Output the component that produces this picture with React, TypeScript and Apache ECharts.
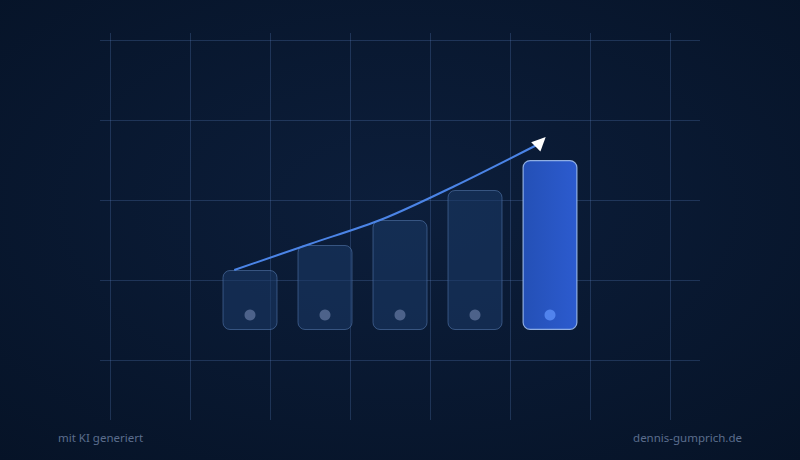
import React, { useEffect, useRef } from "react";
import * as echarts from "echarts";

const categories = ["1", "2", "3", "4", "5"];
const barValues = [60, 85, 110, 140, 170];
const dotLevel = 15;
const trendX = [0.29, 1.3, 2.27, 3.23, 4.35];
const trendY = [60, 86, 111, 144, 186];
const leftNote = "mit KI generiert";
const rightNote = "dennis-gumprich.de";

export default function App() {
  const ref = useRef<HTMLDivElement>(null);
  useEffect(() => {
    if (!ref.current) return;
    const chart = echarts.init(ref.current, null, { renderer: "svg" });
    const gridColor = "rgba(95,135,200,0.26)";
    const hiddenAxis = { show: false };
    const splitOnly = {
      axisLine: { show: false },
      axisTick: { show: false },
      axisLabel: { show: false },
      splitLine: { show: true, lineStyle: { color: gridColor, width: 1 } },
    };
    const lastIdx = barValues.length - 1;
    chart.setOption({
      animation: false,
      backgroundColor: {
        type: "radial",
        x: 0.5,
        y: 0.45,
        r: 0.75,
        colorStops: [
          { offset: 0, color: "#0c1e3b" },
          { offset: 1, color: "#061327" },
        ],
      },
      grid: [
        { left: 110, right: 130, top: 33, bottom: 40 },
        { left: 100, right: 100, top: 40, bottom: 100 },
        { left: 212.5, right: 212.5, top: 130, bottom: 130 },
        { left: 212.5, right: 212.5, top: 130, bottom: 130 },
      ],
      xAxis: [
        { gridIndex: 0, type: "value", min: 0, max: 7, interval: 1, ...splitOnly },
        { gridIndex: 1, type: "value", ...hiddenAxis },
        { gridIndex: 2, type: "category", data: categories, ...hiddenAxis },
        { gridIndex: 3, type: "value", min: 0, max: 5, ...hiddenAxis },
      ],
      yAxis: [
        { gridIndex: 0, type: "value", ...hiddenAxis },
        { gridIndex: 1, type: "value", min: 0, max: 4, interval: 1, ...splitOnly },
        { gridIndex: 2, type: "value", min: 0, max: 200, ...hiddenAxis },
        { gridIndex: 3, type: "value", min: 0, max: 200, ...hiddenAxis },
      ],
      series: [
        {
          type: "bar",
          xAxisIndex: 2,
          yAxisIndex: 2,
          barWidth: 55,
          data: barValues.map((v, i) =>
            i === lastIdx
              ? {
                  value: v,
                  itemStyle: {
                    color: {
                      type: "linear",
                      x: 0,
                      y: 0,
                      x2: 1,
                      y2: 0,
                      colorStops: [
                        { offset: 0, color: "#2450b6" },
                        { offset: 1, color: "#2c5bcf" },
                      ],
                    },
                    borderColor: "rgba(165,195,245,0.85)",
                    borderWidth: 1.2,
                    borderRadius: 7,
                  },
                }
              : {
                  value: v,
                  itemStyle: {
                    color: "rgba(28,58,104,0.55)",
                    borderColor: "rgba(90,125,180,0.55)",
                    borderWidth: 1,
                    borderRadius: 7,
                  },
                }
          ),
        },
        {
          type: "scatter",
          xAxisIndex: 2,
          yAxisIndex: 2,
          symbolSize: 11,
          data: categories.map((c, i) => ({
            value: [c, dotLevel],
            itemStyle: { color: i === lastIdx ? "#5b8ff7" : "#5d7198" },
          })),
        },
        {
          type: "line",
          xAxisIndex: 3,
          yAxisIndex: 3,
          smooth: 0.3,
          symbol: "none",
          showAllSymbol: true,
          lineStyle: { color: "#4b84e6", width: 2 },
          data: trendX.map((x, i) =>
            i === trendX.length - 1
              ? {
                  value: [x, trendY[i]],
                  symbol: "path://M0,0L12,6L0,12Z",
                  symbolSize: [14, 13],
                  symbolRotate: 45,
                  symbolOffset: [2, -2],
                  itemStyle: { color: "#ffffff" },
                }
              : { value: [x, trendY[i]] }
          ),
        },
      ],
      graphic: [
        {
          type: "text",
          left: 58,
          top: 431,
          style: {
            text: leftNote,
            fill: "#5b6d8d",
            font: "11.5px 'Noto Sans', sans-serif",
          },
        },
        {
          type: "text",
          right: 58,
          top: 431,
          style: {
            text: rightNote,
            fill: "#5b6d8d",
            font: "11.5px 'Noto Sans', sans-serif",
          },
        },
      ],
    });
    return () => chart.dispose();
  }, []);
  return (
    <div
      ref={ref}
      style={{ position: "absolute", left: 0, top: 0, width: 800, height: 460 }}
    />
  );
}
